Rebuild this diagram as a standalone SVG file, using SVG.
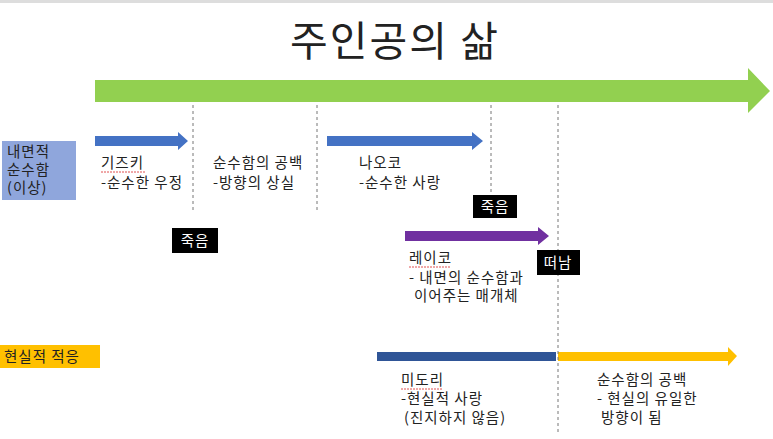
<svg xmlns="http://www.w3.org/2000/svg" width="773" height="439" viewBox="0 0 773 439">
<style>
text{font-family:"Noto Sans CJK KR","Noto Sans",sans-serif;fill:#222;font-size:14.5px;letter-spacing:1px}
.dash{stroke:#777;stroke-width:1;stroke-dasharray:3,3;fill:none}
.blk{fill:#000}
.wt{fill:#fff}
.sq{stroke:#e05050;stroke-width:1;stroke-dasharray:2,1;fill:none}
</style>
<rect width="773" height="439" fill="#fff"/>
<rect x="0" y="0" width="773" height="3" fill="#ddd"/>
<text x="395" y="56" text-anchor="middle" style="font-size:41px;letter-spacing:2px">주인공의 삶</text>
<g id="connectors">
<polygon points="95,80 748,80 748,68 770,91 748,113 748,102 95,102" fill="#92d050"/>
<polygon points="95,136 178,136 178,132 188,141 178,150 178,146 95,146" fill="#4472c4"/>
<polygon points="327,136 472,136 472,132 483,141 472,150 472,146 327,146" fill="#4472c4"/>
<polygon points="405,231 538,231 538,227 549,236 538,245 538,241 405,241" fill="#7030a0"/>
<rect x="377" y="352" width="179" height="9" fill="#2f5597"/>
<polygon points="558,352 728,352 728,347 737,356 728,366 728,361 558,361" fill="#ffc000"/>
<line class="dash" x1="193" y1="105" x2="193" y2="213"/>
<line class="dash" x1="317" y1="105" x2="317" y2="213"/>
<line class="dash" x1="491" y1="105" x2="491" y2="195"/>
<line class="dash" x1="558" y1="105" x2="558" y2="432"/>
</g>
<g id="ideal">
<rect x="2" y="141" width="74" height="59" fill="#8fa6dc"/>
<text x="7" y="157">내면적</text><text x="7" y="175">순수함</text><text x="7" y="193">(이상)</text>
</g>
<g id="real">
<rect x="0" y="345" width="100" height="23" fill="#ffc000"/>
<text x="4" y="362">현실적 적응</text>
</g>
<g id="kizuki"><text x="101" y="168">기즈키</text><path class="sq" d="M101,172 H145"/><text x="101" y="188">-순수한 우정</text></g>
<g id="blank1"><text x="213" y="168">순수함의 공백</text><text x="213" y="188">-방향의 상실</text></g>
<g id="naoko"><text x="359" y="168">나오코</text><text x="359" y="188">-순수한 사랑</text></g>
<g id="death1"><rect class="blk" x="172" y="228" width="46" height="25"/><text class="wt" x="195" y="246" text-anchor="middle">죽음</text></g>
<g id="death2"><rect class="blk" x="473" y="195" width="44" height="23"/><text class="wt" x="495" y="212" text-anchor="middle">죽음</text></g>
<g id="leave"><rect class="blk" x="537" y="250" width="43" height="25"/><text class="wt" x="558" y="268" text-anchor="middle">떠남</text></g>
<g id="reiko"><text x="409" y="263">레이코</text><path class="sq" d="M409,267 H451"/><text x="409" y="283">- 내면의 순수함과</text><text x="414" y="301">이어주는 매개체</text></g>
<g id="midori"><text x="401" y="385">미도리</text><path class="sq" d="M401,389 H443"/><text x="401" y="404">-현실적 사랑</text><text x="404" y="423">(진지하지 않음)</text></g>
<g id="blank2"><text x="597" y="385">순수함의 공백</text><text x="597" y="404">- 현실의 유일한</text><text x="601" y="423">방향이 됨</text></g>
</svg>
